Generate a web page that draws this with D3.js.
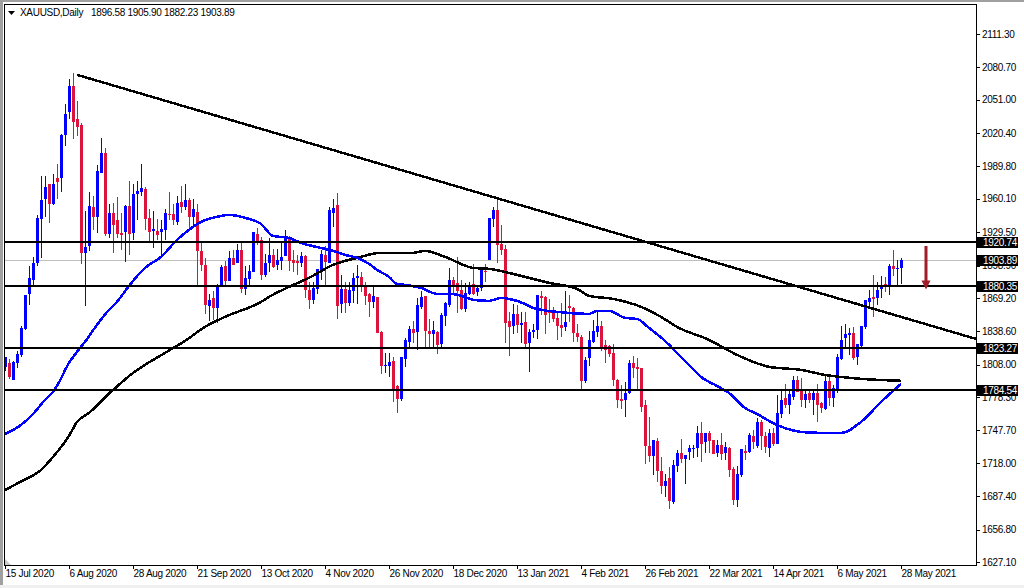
<!DOCTYPE html>
<html>
<head>
<meta charset="utf-8">
<title>XAUUSD Daily</title>
<script src="https://cdn.jsdelivr.net/npm/d3@7"></script>
<style>
	html, body { margin: 0; padding: 0; background: #fff; overflow: hidden; }
	text { font-family: "Liberation Sans", sans-serif; font-size: 10px; letter-spacing: -0.3px; fill: #000; }
	.axis path { display: none; }
	.axis line { stroke: #000; shape-rendering: crispEdges; }
	.axis text { font-size: 10px; font-family: "Liberation Sans", sans-serif; }
</style>
</head>
<body>
<div id="chart"></div>
<script type="text/javascript">

	// daily candles
	var opens = [
		1805.6,1809.6,1794.3,1809.6,1816.9,1840.8,1872.9,1885.7,1901.6,1941.7,
		1960,1973.5,1955.4,1979.3,1978.7,2018.7,2039.8,2063.7,2033.4,2027.9,
		1910.5,1916.9,1952.7,1943.5,1983.9,2002.2,1927.9,1947.2,1940.8,1928.8,
		1929.8,1953.6,1928.8,1964.6,1966.4,1969.2,1942.6,1930.7,1930.7,1929.8,
		1931.6,1946.3,1946.3,1938.9,1957.3,1952.7,1959.1,1943.5,1948.1,1912.3,
		1899.5,1861.9,1869.2,1860.1,1880.2,1898.6,1884.8,1905.9,1901.3,1913.2,
		1877.5,1886.7,1893.1,1927.9,1922.4,1890.3,1901,1908.6,1899.4,1903.1,
		1907.7,1924.2,1904,1903.1,1901.3,1907.7,1876.5,1867.4,1877.4,1893.9,
		1908.6,1901.6,1947.1,1954.5,1863.7,1877.4,1864.6,1875.6,1887.2,1888.4,
		1881.1,1872.9,1865.5,1870.1,1838,1806.8,1806.8,1811.4,1788.5,1776.6,
		1813.2,1828.8,1840.8,1838,1860.9,1871,1838.9,1836.2,1838,1827,
		1852.7,1862.8,1885.7,1882.9,1876.5,1859.1,1872.9,1882,1874.7,1878.1,
		1893.9,1904,1941.6,1949.9,1918.7,1914.1,1848.1,1843.5,1854.5,1844.4,
		1847.2,1827.9,1838,1839.9,1871,1870.1,1857.3,1856.4,1850.9,1844.4,
		1842.6,1861.9,1860,1837.1,1833.4,1793.4,1814.2,1828.9,1838,1843.5,
		1826.1,1825.2,1818.8,1794,1776.6,1775.7,1781.8,1809.6,1805.9,1805,
		1771.1,1733.5,1724.3,1738,1710.5,1696.8,1704.1,1682.1,1715.1,1727,
		1721.6,1728,1730.7,1731.6,1745.4,1737.1,1745.4,1739,1727,1734.4,
		1727,1731.6,1712.4,1683.9,1706.9,1728.9,1728,1742.7,1733.5,1755.5,
		1742.7,1731.6,1745.4,1735.3,1762.8,1777.5,1771.1,1778.4,1794,1783.9,
		1775.7,1782.1,1775.7,1782.1,1772.9,1767.4,1793.1,1777.5,1785.8,1813.3,
		1832.5,1835.3,1837.1,1815.1,1825.2,1842.6,1865.5,1870.1,1869.2,1877.5,
		1882,1881.1,1898.6,1895.5,1896.58
	];
	var highs = [
		1815.4,1813,1811.7,1820.6,1843.5,1872,1898.6,1907.1,1945.3,1981.1,
		1980.5,1973.8,1983,1992.1,2019.6,2047.1,2070.1,2075.3,2049.9,2029.4,
		1949,1966.4,1962.2,1991.2,2016,2006.8,1955.4,1956,1961.9,1946.9,
		1954.5,1976.5,1973.8,1976.5,1992.1,1971.3,1950.8,1949,1941.7,1940.8,
		1950.8,1966.4,1955.4,1962.8,1971.9,1973.8,1961,1959.7,1955.4,1920.6,
		1905.9,1872.9,1875.6,1882.1,1899.5,1902.6,1912.3,1913.2,1918.7,1920.9,
		1898,1899.5,1929.8,1933.1,1925.4,1909.5,1923.9,1914.1,1913.8,1919.3,
		1931.5,1926,1913.2,1908.6,1911.4,1908.6,1884.2,1884.2,1895.8,1913.2,
		1916.9,1952.3,1960,1965.2,1890.3,1884.2,1884.2,1892.4,1899.4,1893.3,
		1884.2,1873.5,1880.2,1870.4,1838.6,1818.4,1818.4,1815.4,1789.4,1815.4,
		1832.2,1843.8,1848.4,1868.9,1875.6,1871,1849.6,1848.4,1838.9,1855.1,
		1865.8,1896.4,1888.7,1906.5,1885.7,1883.2,1884.2,1900.4,1881.1,1895.5,
		1900.4,1942.5,1952.3,1959,1936.1,1917.8,1856.7,1863.7,1862.8,1856.7,
		1856.7,1840.5,1845.3,1872,1875.6,1871,1868.3,1861.3,1856.7,1864.3,
		1875.6,1872,1861.3,1845.3,1835.3,1814.8,1839.2,1849,1857.6,1848.1,
		1830.7,1826.1,1827,1794.6,1789.4,1792.2,1812.3,1816,1813.9,1805,
		1775.7,1760,1739,1740.5,1723.7,1707.8,1714.5,1720.6,1729.8,1739.9,
		1725.2,1734.4,1734.4,1751.8,1755.5,1745.7,1747.2,1739,1739,1745.7,
		1737.4,1732.9,1714.5,1715.1,1730.7,1734.4,1745.7,1748.2,1758.8,1757.3,
		1746.6,1748.8,1749.7,1780.2,1784.8,1790.3,1784.8,1797.7,1797.7,1795.8,
		1784.8,1784.8,1785.4,1790.3,1773.8,1798.6,1799.5,1789.4,1817.8,1843.5,
		1845.4,1841.4,1842.3,1827,1843.5,1867.4,1876.5,1890.3,1883.9,1889.4,
		1888.8,1900.4,1913.2,1904,1905.9
	];
	var lows = [
		1802.3,1794.6,1794.3,1805.3,1815.4,1839.9,1862.8,1881.1,1898,1905.6,
		1943.8,1938.3,1954.5,1960,1966.7,2008.6,2033.1,2015.1,2017.8,1900.4,
		1861.9,1912.6,1931.6,1929.1,1983.6,1925.5,1924,1910.8,1924,1913.2,
		1902.2,1908.7,1922.4,1940.8,1962.2,1931.6,1920.9,1914.8,1922.4,1907.1,
		1922.4,1940.8,1936.2,1936.2,1946.9,1950,1931.6,1934.6,1881.1,1894.3,
		1854.5,1848.1,1849.1,1846,1880.2,1879.6,1884.8,1899.5,1901,1873.5,
		1872,1879.6,1893.1,1917.8,1885.7,1888.7,1893.3,1896.4,1894.9,1894.9,
		1907.7,1893.9,1893.3,1890.3,1897.3,1868.9,1859.1,1863.7,1872.9,1885.7,
		1880.2,1901,1934.6,1849.9,1855.1,1855.7,1861.8,1864.3,1863.7,1875,
		1862.8,1852.1,1859.7,1836.8,1799.5,1800.7,1797,1774.1,1764,1775,
		1806.2,1823,1827.6,1821.5,1858.8,1824.6,1824.6,1824.6,1817.8,1824.6,
		1843.5,1860.6,1871.9,1855.1,1858.2,1856.7,1871.9,1871.9,1871,1875.9,
		1884.2,1904,1934,1901,1908.6,1827.6,1816.3,1836.2,1836.8,1827.6,
		1822.1,1801.6,1832.2,1831.6,1853.6,1836.2,1846.6,1847.5,1830.7,1833.7,
		1838.6,1847.5,1829.2,1829.2,1783.9,1791.6,1806.8,1827.6,1833.7,1820.9,
		1809.9,1815.4,1788.5,1768.3,1767.4,1760.4,1780.9,1795.5,1784.8,1765,
		1717,1719.1,1706.9,1700.8,1689.5,1687,1675.7,1680.3,1709.9,1717.6,
		1698.6,1720.6,1722.2,1723.7,1719.1,1726.8,1726.8,1726.1,1723.7,1720.6,
		1720.6,1705.4,1679.4,1677.8,1705.4,1720.6,1726.8,1730.4,1731.3,1729.8,
		1726.8,1723.7,1733.5,1735.3,1758.8,1768,1762.8,1775.7,1783,1768.9,
		1768,1772.6,1761.9,1755.8,1764,1766.5,1770.2,1769.6,1781.8,1812.4,
		1824.6,1816.9,1812.4,1807.8,1824.6,1840.5,1861.9,1852.1,1862.8,1868.9,
		1875,1872,1889.4,1881.1,1882.23
	];
	var closes = [
		1814.8,1796.8,1810.5,1817.9,1841.7,1872,1887.3,1901.6,1942.6,1959.1,
		1971,1955.4,1973.8,1975.6,2018.7,2038,2063.7,2030.6,2026,1910.5,
		1916,1953.6,1943.5,1985.7,2002.2,1927.9,1947.2,1936.2,1927.9,1927,
		1953.6,1927.9,1964.6,1967.4,1970.1,1941.7,1929.8,1932.5,1927,1932.5,
		1947.2,1945.4,1940.8,1956.4,1952.7,1959.1,1943.5,1950.8,1912.3,1899.5,
		1862.8,1867.4,1860.1,1881.1,1897.7,1884.8,1905.9,1899.5,1913.2,1877.5,
		1887.6,1894,1929.8,1920.8,1890.3,1901,1908.6,1897.9,1904,1906.5,
		1924.8,1903.1,1901.3,1901.3,1907.7,1876.5,1867.4,1878.4,1895.8,1909.5,
		1902.2,1949.9,1951.7,1861.8,1877.4,1864.6,1876.5,1887.5,1889.4,1880.2,
		1871,1865.5,1871,1837.4,1806.8,1807.7,1810.8,1784.8,1776.6,1815.1,
		1830.7,1840.8,1837.1,1862.8,1870.1,1838.9,1836.2,1839.8,1826.1,1853.6,
		1864.6,1885.7,1879.6,1875.6,1859.1,1873.8,1880.2,1872.9,1878.4,1895.5,
		1893,1942.5,1949.9,1917.8,1913.2,1846.6,1842.6,1854.5,1844.4,1846.3,
		1827,1838,1839.9,1872,1869.2,1853.6,1855.5,1849.9,1843.5,1841.7,
		1847.2,1860,1837.1,1833.4,1793.1,1812.3,1830.7,1838.9,1843.5,1823.4,
		1821.5,1817.8,1794,1775.7,1774.7,1782.1,1809.6,1805,1804.1,1769.2,
		1733.5,1724.3,1739,1710.5,1696.8,1701.4,1683,1716,1727,1721.6,
		1725.2,1731.6,1731.6,1745.4,1735.3,1745.4,1738.1,1726.1,1734.4,1726.1,
		1732.6,1711.5,1683.9,1707.8,1730.7,1727,1743.6,1737.1,1755.5,1742.7,
		1732.6,1745.4,1735.3,1763.7,1775.7,1771.1,1781.2,1794,1783,1775.7,
		1781.2,1775.7,1782.1,1771.1,1768.3,1793.1,1777.5,1786.7,1815.1,1830.7,
		1836.2,1837.1,1814.2,1827,1843.5,1867.4,1869.2,1868.3,1876.5,1881.1,
		1880.2,1898.6,1895.8,1896.4,1903.89
	];

	// moving averages, read at the bars where the line bends
	var blueBars = [0,4,7,10,12,13,16,18,20,23,26,28,31,35,39,43,46,49,53,56,60,64,67,71,74,79,82,85,88,91,93,96,98,100,104,108,111,115,117,121,124,126,130,132,138,146,148,151,155,158,161,165,168,171,174,178,181,185,188,193,200,206,209,214,219,224];
	var blueVals = [1744.5,1752.7,1762.8,1775.7,1783,1788.5,1809.6,1819.7,1828.9,1844.5,1858.2,1865.6,1880.2,1896.7,1906.8,1922.4,1931.6,1938.8,1943.5,1945.3,1942.6,1937,1926,1924.2,1919.6,1915,1912.3,1908.6,1905.9,1900.4,1894.9,1888.5,1882,1881.1,1878.4,1872.9,1872.9,1870.1,1867.4,1866.5,1869.2,1868.3,1863.7,1860,1856.4,1854.5,1857.3,1857.3,1850.9,1849.9,1841.7,1829.8,1818.8,1807.8,1796.8,1788.5,1782.1,1768.3,1762.8,1752.7,1746,1745.4,1745.4,1755.5,1773.8,1790.3];
	var blackBars = [0,4,9,12,16,18,21,27,32,40,45,50,55,64,66,71,76,82,88,94,102,105,110,117,121,126,129,136,143,146,152,159,164,168,176,183,191,199,205,214,224];
	var blackVals = [1693.1,1700.9,1711.5,1723.4,1742.7,1755.5,1763.8,1784.8,1800.4,1818.8,1829.8,1842.6,1851.8,1865.5,1870.1,1879.3,1887.6,1899.5,1905.9,1910.5,1910.5,1912.3,1906.8,1896.7,1895.8,1892.1,1889.4,1883,1877.5,1871.1,1868.3,1861,1851.8,1842.6,1830.7,1817,1806,1803.2,1798.6,1795,1793.2];

	var levels = [1920.74, 1880.35, 1823.27, 1784.54];
	var lastPrice = 1903.89;
	var priceTicks = [2111.30,2080.70,2051.00,2020.40,1989.80,1960.10,1929.50,1898.90,1869.20,1838.60,1808.00,1778.30,1747.70,1718.00,1687.40,1656.80,1627.10];
	var dateBars = [0,16,32,48,64,80,96,112,128,144,160,176,192,208,224];
	var dateLabels = ["15 Jul 2020","6 Aug 2020","28 Aug 2020","21 Sep 2020","13 Oct 2020","4 Nov 2020","26 Nov 2020","18 Dec 2020","13 Jan 2021","4 Feb 2021","26 Feb 2021","22 Mar 2021","14 Apr 2021","6 May 2021","28 May 2021"];
	var trendBars = [18, 242.75];
	var trendPrices = [2073.7, 1831.6];
	var arrowBar = 230.25;
	var arrowPrices = [1916.8, 1877];

	var width = 1024, height = 588;
	var frame = {left: 4.5, top: 4.5, right: 976.5, bottom: 565.5};

	var x = d3.scaleLinear().domain([0, 224]).range([5, 901]);
	var y = d3.scaleLinear().domain([1627.1, 2111.3]).range([562, 33.8]);

	var svg = d3.select("#chart").append("svg")
		.attr("width", width)
		.attr("height", height)
		.style("display", "block");

	// window chrome
	svg.append("rect").attr("width", width).attr("height", 2).attr("fill", "#a0a0a0");
	svg.append("rect").attr("width", 3).attr("height", height).attr("fill", "#a0a0a0");
	svg.append("rect").attr("y", 585).attr("width", width).attr("height", 3).attr("fill", "#f0f0f0");

	var px = function(v) { return Math.round(v); };
	var bars = d3.range(opens.length);
	var barColor = function(i) { return closes[i] >= opens[i] ? "#0000ff" : "#dc143c"; };

	// current price line sits behind the candles
	svg.append("line")
		.attr("x1", frame.left).attr("x2", frame.right)
		.attr("y1", px(y(lastPrice)) + 0.5).attr("y2", px(y(lastPrice)) + 0.5)
		.attr("stroke", "#c0c0c0")
		.attr("shape-rendering", "crispEdges");

	var candles = svg.append("g").attr("shape-rendering", "crispEdges");

	candles.selectAll("rect.wick")
		.data(bars)
		.enter()
		.append("rect")
		.attr("class", "wick")
		.attr("x", function(i) { return x(i); })
		.attr("width", 1)
		.attr("y", function(i) { return px(y(highs[i])); })
		.attr("height", function(i) { return Math.max(1, px(y(lows[i])) - px(y(highs[i]))); })
		.attr("fill", barColor);

	candles.selectAll("rect.body")
		.data(bars)
		.enter()
		.append("rect")
		.attr("class", "body")
		.attr("x", function(i) { return x(i) - 1; })
		.attr("width", 3)
		.attr("y", function(i) { return px(y(Math.max(opens[i], closes[i]))); })
		.attr("height", function(i) { return Math.max(1, px(y(Math.min(opens[i], closes[i]))) - px(y(Math.max(opens[i], closes[i])))); })
		.attr("fill", barColor);

	// moving averages
	function maLine(barsList, vals) {
		return d3.line()
			.x(function(d) { return x(d); })
			.y(function(d, i) { return y(vals[i]); })
			.curve(d3.curveMonotoneX)(barsList);
	}
	svg.append("path").attr("d", maLine(blackBars, blackVals))
		.attr("fill", "none").attr("stroke", "#000").attr("stroke-width", 2.5)
		.attr("shape-rendering", "crispEdges");
	svg.append("path").attr("d", maLine(blueBars, blueVals))
		.attr("fill", "none").attr("stroke", "#0000ff").attr("stroke-width", 2.5)
		.attr("shape-rendering", "crispEdges");

	// support and resistance levels
	svg.selectAll("line.level")
		.data(levels)
		.enter()
		.append("line")
		.attr("class", "level")
		.attr("x1", frame.left).attr("x2", frame.right)
		.attr("y1", function(d) { return px(y(d)); })
		.attr("y2", function(d) { return px(y(d)); })
		.attr("stroke", "#000").attr("stroke-width", 2)
		.attr("shape-rendering", "crispEdges");

	// trend line
	svg.append("line")
		.attr("x1", x(trendBars[0])).attr("y1", y(trendPrices[0]))
		.attr("x2", x(trendBars[1])).attr("y2", y(trendPrices[1]))
		.attr("stroke", "#000").attr("stroke-width", 2.5)
		.attr("shape-rendering", "crispEdges");

	// sell arrow
	var ax = x(arrowBar);
	svg.append("line")
		.attr("x1", ax).attr("x2", ax)
		.attr("y1", y(arrowPrices[0])).attr("y2", y(arrowPrices[1]) - 6)
		.attr("stroke", "#a01c28").attr("stroke-width", 3);
	svg.append("path")
		.attr("d", d3.line()([[ax - 4.5, y(arrowPrices[1]) - 9], [ax + 4.5, y(arrowPrices[1]) - 9], [ax, y(arrowPrices[1])]]))
		.attr("fill", "#a01c28");

	// frame
	svg.append("rect")
		.attr("x", frame.left).attr("y", frame.top)
		.attr("width", frame.right - frame.left).attr("height", frame.bottom - frame.top)
		.attr("fill", "none").attr("stroke", "#000")
		.attr("shape-rendering", "crispEdges");

	// corner mark
	svg.append("path")
		.attr("d", d3.line()([[5, 559], [11, 565], [5, 565]]))
		.attr("fill", "#c8c8c8");

	// axes
	var yAxis = d3.axisRight(y)
		.tickValues(priceTicks)
		.tickSize(3)
		.tickPadding(2.5)
		.tickFormat(d3.format(".2f"));
	svg.append("g").attr("class", "axis")
		.attr("transform", "translate(" + frame.right + ",0)")
		.call(yAxis);

	var xAxis = d3.axisBottom(x)
		.tickValues(dateBars)
		.tickSize(3)
		.tickPadding(1)
		.tickFormat(function(d, i) { return dateLabels[i]; });
	var xg = svg.append("g").attr("class", "axis")
		.attr("transform", "translate(0," + frame.bottom + ")")
		.call(xAxis);
	xg.selectAll("text")
		.attr("text-anchor", "start");

	// price tags on the axis
	var tags = svg.selectAll("g.tag")
		.data(levels.concat([lastPrice]))
		.enter()
		.append("g")
		.attr("class", "tag")
		.attr("transform", function(d) { return "translate(" + (frame.right + 0.5) + "," + px(y(d)) + ")"; });
	tags.append("rect")
		.attr("x", 0).attr("y", -5).attr("width", 41).attr("height", 11)
		.attr("fill", "#000");
	tags.append("text")
		.attr("x", 6).attr("y", 4)
		.style("fill", "#fff")
		.text(function(d) { return d3.format(".2f")(d); });

	// header
	svg.append("path")
		.attr("d", d3.line()([[8, 11], [15, 11], [11.5, 15]]))
		.attr("fill", "#000");
	svg.append("text").attr("x", 20).attr("y", 16).text("XAUUSD,Daily");
	svg.append("text").attr("x", 91).attr("y", 16).text("1896.58 1905.90 1882.23 1903.89");

</script>
</body>
</html>
